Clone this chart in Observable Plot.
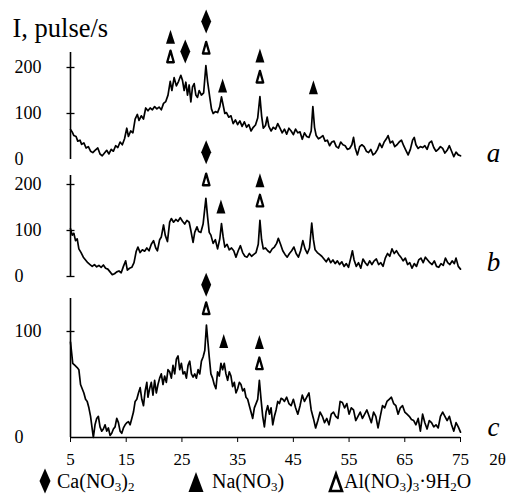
<!DOCTYPE html>
<html><head><meta charset="utf-8">
<script src="https://cdn.jsdelivr.net/npm/d3@7"></script>
<script src="https://cdn.jsdelivr.net/npm/@observablehq/plot@0.6"></script>
<style>
html,body{margin:0;padding:0;background:#fff;}
#wrap{position:relative;width:518px;height:503px;overflow:hidden;font-family:"Liberation Serif","Times New Roman",serif;color:#000;}
.lg-sym{position:absolute;overflow:visible;}
.lg-txt{position:absolute;font-size:20px;line-height:20px;white-space:nowrap;}
.lg-txt sub{font-size:13px;vertical-align:-3px;line-height:0;}
</style></head>
<body><div id="wrap"></div>
<script>
// 2θ (degrees) / intensity (pulse/s)
const scanA = [[5.0,65],[5.3,60],[5.6,52],[6.0,50],[6.3,40],[6.7,42],[7.0,33],[7.4,36],[7.8,25],[8.2,28],[8.6,18],[9.0,15],[9.4,20],[9.9,25],[10.3,12],[10.7,8],[11.1,14],[11.5,20],[11.9,12],[12.3,22],[12.7,18],[13.1,30],[13.5,26],[13.9,38],[14.3,32],[14.7,45],[15.1,68],[15.4,50],[15.8,62],[16.2,58],[16.6,88],[17.0,98],[17.3,85],[17.7,95],[18.1,88],[18.5,112],[18.9,106],[19.3,112],[19.7,108],[20.1,115],[20.5,110],[20.9,114],[21.3,108],[21.7,122],[22.1,126],[22.5,140],[22.9,170],[23.2,150],[23.6,178],[24.0,160],[24.4,170],[24.8,183],[25.1,172],[25.4,150],[25.7,168],[26.0,140],[26.3,162],[26.6,125],[26.9,158],[27.2,165],[27.5,140],[27.8,135],[28.1,150],[28.5,140],[28.9,145],[29.3,204],[29.6,170],[30.0,135],[30.3,110],[30.6,100],[31.0,104],[31.4,102],[31.8,115],[32.1,136],[32.4,118],[32.7,100],[33.0,102],[33.4,92],[33.8,95],[34.2,78],[34.6,86],[35.0,76],[35.4,84],[35.8,72],[36.2,82],[36.6,70],[37.0,76],[37.4,62],[37.8,70],[38.2,75],[38.6,90],[39.0,137],[39.3,95],[39.6,68],[40.0,74],[40.3,92],[40.6,72],[41.0,62],[41.4,70],[41.8,66],[42.2,78],[42.6,68],[43.0,58],[43.4,66],[43.8,55],[44.2,68],[44.6,62],[45.0,54],[45.4,66],[45.8,58],[46.2,60],[46.6,44],[47.0,58],[47.4,50],[47.8,48],[48.2,62],[48.5,115],[48.8,70],[49.1,52],[49.5,45],[49.9,48],[50.3,52],[50.7,40],[51.1,42],[51.5,30],[51.9,38],[52.3,40],[52.7,28],[53.1,25],[53.5,38],[53.9,32],[54.3,30],[54.7,22],[55.1,24],[55.5,32],[55.8,48],[56.1,25],[56.5,10],[56.9,28],[57.3,32],[57.7,28],[58.1,18],[58.5,15],[58.9,22],[59.3,10],[59.7,14],[60.1,22],[60.5,35],[60.9,26],[61.3,38],[61.7,45],[62.0,52],[62.4,36],[62.8,40],[63.2,28],[63.6,32],[64.0,38],[64.4,42],[64.8,30],[65.2,20],[65.6,10],[66.0,22],[66.4,42],[66.7,48],[67.0,32],[67.4,24],[67.8,28],[68.2,26],[68.6,30],[69.0,22],[69.4,36],[69.8,40],[70.2,26],[70.6,18],[71.0,22],[71.4,28],[71.8,24],[72.2,14],[72.6,20],[73.0,30],[73.4,18],[73.8,6],[74.2,16],[74.6,10],[75.0,8]];
const scanB = [[5.0,104],[5.3,90],[5.6,94],[5.9,78],[6.2,82],[6.5,60],[6.9,52],[7.3,42],[7.7,36],[8.1,30],[8.5,26],[8.9,22],[9.3,26],[9.7,21],[10.1,24],[10.5,20],[10.9,25],[11.3,18],[11.7,16],[12.1,10],[12.5,4],[12.9,6],[13.3,10],[13.7,12],[14.1,8],[14.5,22],[14.9,34],[15.2,14],[15.6,18],[16.0,20],[16.4,30],[16.8,55],[17.1,64],[17.5,52],[17.9,58],[18.3,55],[18.7,62],[19.1,56],[19.5,70],[19.9,78],[20.3,62],[20.6,56],[21.0,80],[21.3,86],[21.7,112],[22.0,90],[22.4,76],[22.8,118],[23.1,126],[23.5,118],[23.9,124],[24.3,120],[24.7,128],[25.1,120],[25.5,114],[25.9,122],[26.3,118],[26.6,100],[27.0,74],[27.3,96],[27.7,108],[28.0,98],[28.4,96],[28.8,114],[29.3,170],[29.6,130],[29.9,96],[30.2,90],[30.6,72],[31.0,80],[31.4,60],[31.8,82],[32.1,115],[32.4,86],[32.7,64],[33.1,70],[33.5,58],[33.9,62],[34.3,56],[34.7,42],[35.1,56],[35.5,67],[35.9,52],[36.3,44],[36.7,42],[37.1,50],[37.5,44],[37.9,48],[38.3,52],[38.7,70],[39.0,122],[39.3,80],[39.6,60],[40.0,62],[40.4,56],[40.8,52],[41.2,60],[41.6,64],[42.0,72],[42.3,83],[42.7,70],[43.1,56],[43.5,48],[43.9,42],[44.3,50],[44.7,56],[45.1,64],[45.5,50],[45.9,42],[46.3,56],[46.7,78],[47.1,60],[47.5,50],[47.9,62],[48.3,116],[48.6,80],[48.9,58],[49.3,52],[49.7,48],[50.1,44],[50.5,38],[50.9,32],[51.3,40],[51.7,30],[52.1,36],[52.5,28],[52.9,34],[53.3,26],[53.7,32],[54.1,22],[54.5,28],[54.9,20],[55.3,40],[55.6,56],[55.9,36],[56.3,22],[56.7,30],[57.1,18],[57.5,38],[57.9,30],[58.3,24],[58.7,34],[59.1,26],[59.5,34],[59.9,38],[60.3,26],[60.7,30],[61.1,22],[61.5,40],[61.9,50],[62.3,44],[62.7,60],[63.1,50],[63.5,56],[63.9,48],[64.3,42],[64.7,34],[65.1,40],[65.5,26],[65.9,30],[66.3,18],[66.7,28],[67.1,22],[67.5,36],[67.9,40],[68.3,30],[68.7,42],[69.1,36],[69.5,30],[69.9,26],[70.3,34],[70.7,22],[71.1,20],[71.5,28],[71.9,24],[72.3,40],[72.7,30],[73.1,26],[73.5,34],[73.9,28],[74.2,40],[74.6,22],[75.0,16]];
const scanC = [[5.0,90],[5.2,80],[5.4,70],[5.8,68],[6.2,66],[6.5,64],[6.8,50],[7.1,46],[7.4,42],[7.7,36],[8.0,34],[8.3,28],[8.6,20],[8.9,8],[9.1,0],[9.4,12],[9.7,18],[10.0,20],[10.3,10],[10.6,6],[10.9,8],[11.2,12],[11.5,6],[11.8,9],[12.1,2],[12.4,4],[12.7,8],[13.0,10],[13.3,18],[13.6,14],[13.9,6],[14.2,4],[14.5,9],[14.8,12],[15.1,14],[15.4,15],[15.7,12],[16.0,18],[16.3,24],[16.6,34],[16.9,36],[17.2,42],[17.5,47],[17.8,36],[18.1,30],[18.4,44],[18.7,52],[18.9,38],[19.2,46],[19.5,52],[19.8,40],[20.1,54],[20.4,42],[20.7,50],[21.0,56],[21.3,60],[21.6,50],[21.9,58],[22.2,52],[22.5,64],[22.8,62],[23.1,56],[23.4,68],[23.7,60],[24.0,74],[24.3,77],[24.6,64],[24.9,70],[25.2,60],[25.5,62],[25.8,56],[26.1,68],[26.4,72],[26.7,60],[27.0,57],[27.3,60],[27.6,56],[27.9,64],[28.2,60],[28.5,72],[28.8,76],[29.1,82],[29.4,106],[29.7,88],[29.9,76],[30.2,60],[30.5,56],[30.8,50],[31.1,46],[31.4,62],[31.7,58],[32.0,70],[32.3,64],[32.6,70],[32.9,60],[33.2,54],[33.5,62],[33.8,58],[34.1,48],[34.4,52],[34.7,42],[35.0,46],[35.3,52],[35.6,50],[35.9,44],[36.2,46],[36.5,38],[36.8,36],[37.1,30],[37.4,24],[37.7,18],[38.0,28],[38.3,32],[38.6,36],[38.9,54],[39.2,36],[39.5,20],[39.8,10],[40.1,24],[40.4,30],[40.7,22],[41.0,28],[41.3,12],[41.6,20],[41.9,26],[42.2,34],[42.5,32],[42.8,37],[43.1,36],[43.4,34],[43.8,38],[44.2,32],[44.6,30],[45.0,36],[45.4,28],[45.8,22],[46.2,30],[46.6,40],[47.0,34],[47.4,38],[47.8,42],[48.2,26],[48.6,18],[49.0,9],[49.4,16],[49.8,24],[50.2,20],[50.6,14],[51.0,18],[51.4,12],[51.8,22],[52.2,24],[52.6,20],[53.0,18],[53.4,34],[53.8,33],[54.2,28],[54.6,32],[55.0,22],[55.4,28],[55.8,26],[56.2,16],[56.6,20],[57.0,24],[57.4,18],[57.8,22],[58.2,26],[58.6,20],[59.0,14],[59.4,24],[59.8,20],[60.2,9],[60.6,20],[61.0,30],[61.4,28],[61.8,34],[62.2,36],[62.6,38],[63.0,32],[63.4,30],[63.8,22],[64.2,28],[64.6,30],[65.0,24],[65.4,22],[65.8,20],[66.2,17],[66.6,16],[67.0,12],[67.4,18],[67.8,6],[68.2,22],[68.6,14],[69.0,8],[69.4,16],[69.8,14],[70.2,10],[70.6,12],[71.0,9],[71.4,20],[71.8,24],[72.2,20],[72.6,16],[73.0,20],[73.4,12],[73.8,6],[74.2,14],[74.6,10],[75.0,5]];

// phase markers: [phase, 2θ, height in the panel's intensity units]
const markersA = [["Na",22.95,267],["Al",22.95,224],["Ca",25.6,235],["Ca",29.35,300],["Al",29.35,243],["Na",32.3,161],["Na",39.0,226],["Al",39.0,180],["Na",48.6,157]];
const markersB = [["Ca",29.35,270],["Al",29.35,211],["Na",32.0,152],["Na",39.0,209],["Al",39.0,165]];
const markersC = [["Ca",29.35,144],["Al",29.35,122],["Na",32.5,91],["Na",38.9,90],["Al",38.9,70]];

const yLabelsA = [0, 100, 200], yTicksA = [100, 200];
const yLabelsB = [0, 100, 200], yTicksB = [0, 100, 200];
const yLabelsC = [0, 100], yTicksC = [100];
const xTicks = [5, 15, 25, 35, 45, 55, 65, 75];
const xDomain = [5, 75];
const panelNames = ["a", "b", "c"];
const yTitle = "I, pulse/s";
const xTitle = "2θ";
const phaseNames = {Ca: ["Ca(NO", "3", ")", "2", ""], Na: ["Na(NO", "3", ")", "", ""], Al: ["Al(NO", "3", ")", "3", "·9H", "2", "O"]};

const W = 518, H = 503;
const hTick = {draw(c){c.moveTo(-4,0);c.lineTo(4,0);}};
const diamondSym = {draw(c){c.moveTo(0,-12);c.lineTo(5,0);c.lineTo(0,12);c.lineTo(-5,0);c.closePath();}};
const triSym = {draw(c){c.moveTo(0,-7);c.lineTo(4.5,7);c.lineTo(-4.5,7);c.closePath();}};
const openTriSym = {draw(c){c.moveTo(0,-5.8);c.lineTo(3.3,5.8);c.lineTo(-3.3,5.8);c.closePath();}};

function panel(cfg) {
  const data = cfg.scan.map(([t, v]) => ({t, v}));
  const mk = cfg.markers.map(([p, t, v]) => ({p, t, v}));
  const yMax = (cfg.zero - cfg.top) / cfg.k;
  const marks = [
    Plot.ruleX([xDomain[0]], {x: d => d, stroke: "#000", strokeWidth: 1.6}),
    Plot.dot(cfg.yTicks, {x: () => xDomain[0], y: d => d, symbol: hTick, stroke: "#000", fill: "none", strokeWidth: 1.3}),
    Plot.text(cfg.yLabels, {y: d => d, text: d => String(d), frameAnchor: "left", lineAnchor: "middle", textAnchor: "start", dx: -56, fontSize: 18}),
    Plot.line(data, {x: "t", y: "v", stroke: "#000", strokeWidth: 1.7, strokeLinejoin: "round"}),
    Plot.dot(mk.filter(d => d.p === "Ca"), {x: "t", y: "v", symbol: diamondSym, fill: "#000", stroke: "none"}),
    Plot.dot(mk.filter(d => d.p === "Na"), {x: "t", y: "v", symbol: triSym, fill: "#000", stroke: "none"}),
    Plot.dot(mk.filter(d => d.p === "Al"), {x: "t", y: "v", symbol: openTriSym, fill: "#fff", stroke: "#000", strokeWidth: 2.3, strokeLinejoin: "round"}),
    Plot.text([cfg.name], {frameAnchor: "bottom-right", lineAnchor: "middle", textAnchor: "middle", dx: 33, dy: cfg.labelDy, fontSize: 27, fontStyle: "italic"})
  ];
  if (cfg.title) marks.push(Plot.text([yTitle], {frameAnchor: "top-left", lineAnchor: "middle", textAnchor: "start", dx: -58, dy: -24, fontSize: 26.5}));
  if (cfg.xAxis) {
    marks.push(Plot.ruleY([0], {stroke: "#000", strokeWidth: 1.5}));
    marks.push(Plot.text([xTitle], {frameAnchor: "bottom-right", lineAnchor: "middle", textAnchor: "middle", dx: 37, dy: 22, fontSize: 17}));
  }
  const svg = Plot.plot({
    width: W, height: H,
    marginLeft: 70, marginRight: 58, marginTop: cfg.top, marginBottom: H - cfg.zero,
    x: cfg.xAxis ? {domain: xDomain, ticks: xTicks, tickSize: 5, tickPadding: 10, label: null, axis: "bottom"} : {domain: xDomain, axis: null},
    y: {domain: [0, yMax], axis: null},
    style: {fontFamily: '"Liberation Serif", "Times New Roman", serif', fontSize: "17px", color: "#000", background: "transparent", overflow: "visible"},
    marks
  });
  svg.style.position = "absolute"; svg.style.left = "0px"; svg.style.top = "0px";
  svg.style.background = "transparent"; svg.style.overflow = "visible";
  return svg;
}

const wrap = document.getElementById("wrap");
wrap.appendChild(panel({scan: scanA, markers: markersA, top: 52, zero: 159, k: 0.46, yTicks: yTicksA, yLabels: yLabelsA, name: panelNames[0], labelDy: -6, title: true}));
wrap.appendChild(panel({scan: scanB, markers: markersB, top: 175, zero: 276, k: 0.46, yTicks: yTicksB, yLabels: yLabelsB, name: panelNames[1], labelDy: -14}));
wrap.appendChild(panel({scan: scanC, markers: markersC, top: 298, zero: 437, k: 1.06, yTicks: yTicksC, yLabels: yLabelsC, name: panelNames[2], labelDy: -10, xAxis: true}));

// legend
function legendItem(sym, symX, symY, txtX, parts) {
  const ns = "http://www.w3.org/2000/svg";
  const s = document.createElementNS(ns, "svg");
  s.setAttribute("class", "lg-sym"); s.setAttribute("width", 20); s.setAttribute("height", 30);
  s.style.left = (symX - 10) + "px"; s.style.top = (symY - 15) + "px";
  const p = document.createElementNS(ns, "path");
  if (sym === "Ca") { p.setAttribute("d", "M10,2.5 L15.5,15 L10,27.5 L4.5,15 Z"); p.setAttribute("fill", "#000"); }
  if (sym === "Na") { p.setAttribute("d", "M10,5 L17.5,25 L2.5,25 Z"); p.setAttribute("fill", "#000"); }
  if (sym === "Al") { p.setAttribute("d", "M10,7 L16,24 L4,24 Z"); p.setAttribute("fill", "#fff"); p.setAttribute("stroke", "#000"); p.setAttribute("stroke-width", "2.6"); p.setAttribute("stroke-linejoin", "miter"); }
  s.appendChild(p); wrap.appendChild(s);
  const t = document.createElement("div");
  t.className = "lg-txt"; t.style.left = txtX + "px"; t.style.top = "471px";
  parts.forEach((x, i) => {
    if (i % 2 === 1 && x !== "") { const sub = document.createElement("sub"); sub.textContent = x; t.appendChild(sub); }
    else if (i % 2 === 0) t.appendChild(document.createTextNode(x));
  });
  wrap.appendChild(t);
}
legendItem("Ca", 44.5, 480.5, 57, phaseNames.Ca);
legendItem("Na", 195.5, 482, 212, phaseNames.Na);
legendItem("Al", 335.5, 482, 344, phaseNames.Al);
</script>
</body></html>
